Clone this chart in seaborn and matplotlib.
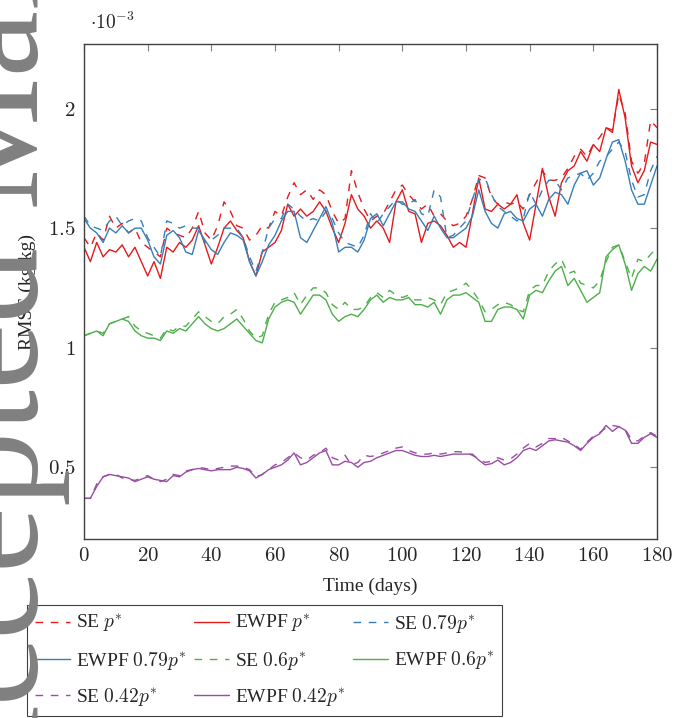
import matplotlib
matplotlib.use("Agg")
import matplotlib.pyplot as plt
import pandas as pd
import seaborn as sns

# Days sampled every 2 days
DAYS = list(range(0, 181, 2))

# RMSE values (x 1e-3 kg/kg)
SE_P = [
    1.46, 1.42, 1.48, 1.45, 1.55, 1.50, 1.52, 1.48, 1.50, 1.44,
    1.42, 1.40, 1.38, 1.50, 1.48, 1.47, 1.46, 1.50, 1.57, 1.48,
    1.45, 1.51, 1.61, 1.57, 1.51, 1.50, 1.45, 1.47, 1.51, 1.50,
    1.57, 1.55, 1.63, 1.69, 1.64, 1.66, 1.62, 1.66, 1.64, 1.57,
    1.52, 1.54, 1.74, 1.65, 1.58, 1.53, 1.55, 1.56, 1.61, 1.66,
    1.68, 1.64, 1.61, 1.58, 1.60, 1.55, 1.56, 1.53, 1.51, 1.52,
    1.55, 1.62, 1.72, 1.71, 1.63, 1.60, 1.61, 1.60, 1.61, 1.58,
    1.64, 1.69, 1.74, 1.70, 1.70, 1.71, 1.75, 1.80, 1.83, 1.80,
    1.85, 1.88, 1.92, 1.91, 2.06, 1.98, 1.78, 1.73, 1.77, 1.95,
    1.92,
]
EWPF_P = [
    1.42, 1.36, 1.44, 1.38, 1.41, 1.40, 1.43, 1.38, 1.42, 1.36,
    1.30, 1.36, 1.29, 1.42, 1.40, 1.44, 1.42, 1.45, 1.51, 1.43,
    1.35, 1.42, 1.50, 1.53, 1.49, 1.46, 1.36, 1.30, 1.40, 1.42,
    1.44, 1.49, 1.60, 1.55, 1.58, 1.55, 1.57, 1.61, 1.57, 1.50,
    1.44, 1.52, 1.64, 1.58, 1.55, 1.50, 1.53, 1.50, 1.44, 1.61,
    1.66, 1.57, 1.56, 1.44, 1.52, 1.53, 1.51, 1.47, 1.42, 1.44,
    1.42, 1.56, 1.71, 1.58, 1.57, 1.60, 1.58, 1.60, 1.64, 1.52,
    1.45, 1.60, 1.75, 1.63, 1.55, 1.69, 1.74, 1.76, 1.82, 1.78,
    1.85, 1.82, 1.92, 1.90, 2.08, 1.96, 1.76, 1.69, 1.74, 1.86,
    1.85,
]
SE_079 = [
    1.55, 1.51, 1.50, 1.49, 1.53, 1.55, 1.51, 1.53, 1.54, 1.53,
    1.46, 1.42, 1.38, 1.53, 1.52, 1.50, 1.51, 1.50, 1.50, 1.44,
    1.45, 1.47, 1.50, 1.50, 1.50, 1.46, 1.38, 1.32, 1.40, 1.50,
    1.54, 1.54, 1.60, 1.58, 1.55, 1.53, 1.54, 1.53, 1.57, 1.54,
    1.48, 1.44, 1.43, 1.42, 1.47, 1.56, 1.52, 1.56, 1.59, 1.62,
    1.60, 1.60, 1.62, 1.56, 1.55, 1.66, 1.63, 1.46, 1.47, 1.50,
    1.53, 1.62, 1.70, 1.71, 1.64, 1.59, 1.57, 1.55, 1.53, 1.54,
    1.65, 1.60, 1.66, 1.70, 1.70, 1.66, 1.71, 1.72, 1.73, 1.70,
    1.73, 1.78, 1.80, 1.83, 1.86, 1.82, 1.70, 1.63, 1.64, 1.74,
    1.80,
]
EWPF_079 = [
    1.54, 1.50, 1.48, 1.44, 1.50, 1.48, 1.51, 1.48, 1.50, 1.50,
    1.45, 1.38, 1.35, 1.47, 1.49, 1.46, 1.40, 1.39, 1.49, 1.45,
    1.41, 1.39, 1.44, 1.48, 1.47, 1.45, 1.36, 1.30, 1.36, 1.43,
    1.47, 1.53, 1.57, 1.57, 1.46, 1.44, 1.49, 1.54, 1.59, 1.52,
    1.40, 1.42, 1.42, 1.40, 1.45, 1.54, 1.56, 1.51, 1.56, 1.61,
    1.61, 1.58, 1.57, 1.53, 1.49, 1.55, 1.50, 1.46, 1.46, 1.48,
    1.50, 1.55, 1.66, 1.57, 1.52, 1.50, 1.56, 1.57, 1.54, 1.53,
    1.58, 1.60, 1.55, 1.62, 1.65, 1.64, 1.60, 1.68, 1.73, 1.74,
    1.68, 1.71, 1.79, 1.86, 1.87, 1.78, 1.66, 1.60, 1.60, 1.68,
    1.76,
]
SE_06 = [
    1.05, 1.06, 1.07, 1.06, 1.10, 1.11, 1.12, 1.13, 1.09, 1.07,
    1.06, 1.05, 1.04, 1.08, 1.07, 1.09, 1.09, 1.12, 1.15, 1.13,
    1.11, 1.10, 1.13, 1.14, 1.16, 1.12, 1.07, 1.04, 1.05, 1.14,
    1.19, 1.20, 1.21, 1.23, 1.18, 1.22, 1.25, 1.25, 1.23, 1.18,
    1.16, 1.19, 1.16, 1.16, 1.17, 1.21, 1.23, 1.21, 1.24, 1.22,
    1.21, 1.22, 1.20, 1.20, 1.21, 1.20, 1.18, 1.23, 1.24, 1.25,
    1.27, 1.24, 1.20, 1.15, 1.16, 1.18, 1.19, 1.18, 1.16, 1.15,
    1.24, 1.26, 1.26, 1.32, 1.35, 1.37, 1.31, 1.32, 1.27, 1.26,
    1.25, 1.28, 1.36, 1.42, 1.43, 1.36, 1.29, 1.37, 1.36, 1.39,
    1.42,
]
EWPF_06 = [
    1.05, 1.06, 1.07, 1.05, 1.10, 1.11, 1.12, 1.11, 1.07, 1.05,
    1.04, 1.04, 1.03, 1.07, 1.06, 1.08, 1.07, 1.10, 1.13, 1.10,
    1.08, 1.07, 1.08, 1.10, 1.12, 1.09, 1.06, 1.03, 1.02, 1.12,
    1.17, 1.19, 1.20, 1.19, 1.14, 1.18, 1.22, 1.22, 1.20, 1.14,
    1.11, 1.13, 1.14, 1.13, 1.16, 1.20, 1.22, 1.19, 1.21, 1.20,
    1.20, 1.21, 1.18, 1.18, 1.17, 1.19, 1.14, 1.20, 1.22, 1.22,
    1.23, 1.21, 1.19, 1.11, 1.11, 1.16, 1.17, 1.17, 1.16, 1.12,
    1.22, 1.24, 1.23, 1.28, 1.32, 1.34, 1.26, 1.29, 1.24, 1.19,
    1.21, 1.23, 1.38, 1.41, 1.43, 1.35, 1.24, 1.31, 1.34, 1.32,
    1.37,
]
SE_042 = [
    0.37, 0.37, 0.43, 0.46, 0.47, 0.47, 0.455, 0.45, 0.445, 0.455,
    0.465, 0.45, 0.44, 0.45, 0.47, 0.465, 0.485, 0.49, 0.50, 0.495,
    0.49, 0.495, 0.50, 0.505, 0.505, 0.50, 0.49, 0.46, 0.47, 0.49,
    0.51, 0.52, 0.54, 0.56, 0.54, 0.53, 0.55, 0.56, 0.58, 0.54,
    0.53, 0.55, 0.51, 0.52, 0.55, 0.545, 0.55, 0.56, 0.57, 0.58,
    0.585, 0.57, 0.56, 0.555, 0.555, 0.56, 0.555, 0.56, 0.565, 0.565,
    0.56, 0.55, 0.535, 0.52, 0.525, 0.54, 0.53, 0.535, 0.555, 0.58,
    0.60, 0.585, 0.60, 0.62, 0.62, 0.625, 0.61, 0.595, 0.575, 0.605,
    0.63, 0.645, 0.665, 0.675, 0.67, 0.66, 0.615, 0.61, 0.63, 0.645,
    0.63,
]
EWPF_042 = [
    0.37, 0.37, 0.42, 0.46, 0.47, 0.465, 0.46, 0.455, 0.44, 0.45,
    0.46, 0.45, 0.445, 0.44, 0.465, 0.46, 0.48, 0.49, 0.495, 0.49,
    0.485, 0.49, 0.49, 0.49, 0.50, 0.495, 0.485, 0.455, 0.47, 0.49,
    0.50, 0.51, 0.53, 0.56, 0.51, 0.52, 0.54, 0.56, 0.57, 0.51,
    0.51, 0.525, 0.52, 0.50, 0.52, 0.525, 0.54, 0.55, 0.56, 0.57,
    0.57, 0.56, 0.55, 0.545, 0.545, 0.55, 0.545, 0.55, 0.555, 0.555,
    0.555, 0.555, 0.53, 0.51, 0.515, 0.53, 0.51, 0.52, 0.54, 0.57,
    0.58, 0.57, 0.59, 0.61, 0.615, 0.61, 0.605, 0.59, 0.57, 0.60,
    0.625, 0.64, 0.675, 0.65, 0.67, 0.655, 0.60, 0.60, 0.625, 0.64,
    0.625,
]

LABELS = [
    r"SE $p^{*}$", r"EWPF $p^{*}$", r"SE $0.79p^{*}$",
    r"EWPF $0.79p^{*}$", r"SE $0.6p^{*}$", r"EWPF $0.6p^{*}$",
    r"SE $0.42p^{*}$", r"EWPF $0.42p^{*}$",
]
SERIES = [SE_P, EWPF_P, SE_079, EWPF_079, SE_06, EWPF_06, SE_042, EWPF_042]
COLORS = ["#e41a1c", "#e41a1c", "#377eb8", "#377eb8",
          "#4daf4a", "#4daf4a", "#984ea3", "#984ea3"]

X_TICKS = [0, 20, 40, 60, 80, 100, 120, 140, 160, 180]
Y_TICKS = [0.5, 1.0, 1.5, 2.0]
Y_TICK_LABELS = ["$0.5$", "$1$", "$1.5$", "$2$"]

sns.set_style("white")
plt.rcParams["font.family"] = ["Liberation Serif", "DejaVu Serif"]
plt.rcParams["mathtext.fontset"] = "cm"

frames = []
for label, vals in zip(LABELS, SERIES):
    frames.append(pd.DataFrame({"day": DAYS, "rmse": vals, "series": label}))
df = pd.concat(frames, ignore_index=True)

palette = dict(zip(LABELS, COLORS))
dashes = {lab: ((5.5, 5.5) if lab.startswith("SE") else "") for lab in LABELS}

fig = plt.figure(figsize=(6.77, 7.18), dpi=100)
ax = fig.add_axes([84 / 677, 1 - 539 / 718, (657 - 84) / 677, (539 - 44) / 718])

sns.lineplot(data=df, x="day", y="rmse", hue="series", style="series",
             hue_order=LABELS, style_order=LABELS, palette=palette,
             dashes=dashes, linewidth=1.0, legend=False, ax=ax)

ax.set_xlim(0, 180)
ax.set_ylim(0.2, 2.27)
ax.set_xticks(X_TICKS)
ax.set_xticklabels([f"${t}$" for t in X_TICKS], fontsize=15)
ax.set_yticks(Y_TICKS)
ax.set_yticklabels(Y_TICK_LABELS, fontsize=15)
ax.tick_params(direction="in", length=5, width=0.8, color="#808080",
               top=True, right=True, pad=6)
for sp in ax.spines.values():
    sp.set_color("#404040")
    sp.set_linewidth(1.0)

ax.set_xlabel("Time (days)", fontsize=14, labelpad=8)
ax.set_ylabel("RMSE (kg/kg)", fontsize=14)
ax.yaxis.set_label_coords(-0.084, 0.5)
fig.text(90 / 677, 1 - 22 / 718, r"$\cdot 10^{-3}$", fontsize=14,
         va="center", ha="left")

# watermark on the left edge
fig.text(0.056, -0.134, "Accepted Manuscript", rotation=90,
         rotation_mode="anchor", ha="left", va="baseline",
         fontsize=108, color="#808080", zorder=0)

# legend filled row by row (matplotlib fills column by column)
lines = ax.get_lines()[:len(LABELS)]
order = [0, 3, 6, 1, 4, 7, 2, 5]
leg = ax.legend([lines[i] for i in order], [LABELS[i] for i in order],
                ncol=3, loc="upper left",
                bbox_to_anchor=(27 / 677, 1 - 605 / 718),
                bbox_transform=fig.transFigure, borderaxespad=0,
                fontsize=14, handlelength=1.8, columnspacing=0.4,
                handletextpad=0.3, borderpad=0.4, labelspacing=0.75,
                fancybox=False, framealpha=1, edgecolor="#404040")
leg.get_frame().set_linewidth(0.8)

fig.savefig("out.png", dpi=100)
plt.close(fig)
